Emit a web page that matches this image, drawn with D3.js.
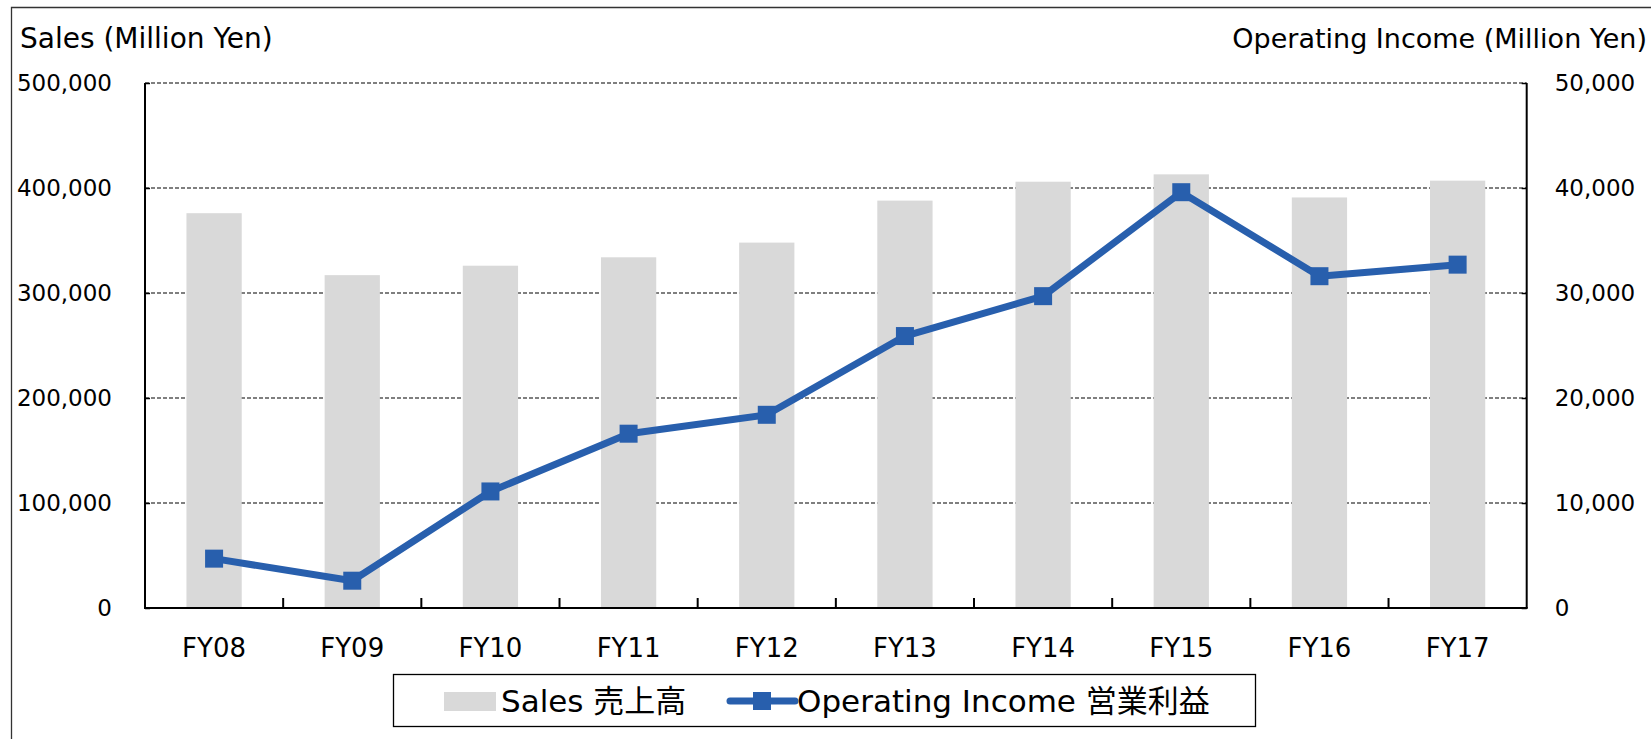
<!DOCTYPE html>
<html>
<head>
<meta charset="utf-8">
<script src="https://cdn.jsdelivr.net/npm/d3@7"></script>
<style>
  body { margin: 0; background: #fff; }
  svg text { font-family: "DejaVu Sans", "Noto Sans CJK JP", sans-serif; fill: #000; }
</style>
</head>
<body>
<svg id="chart" width="1651" height="739"></svg>
<script>
// values
var years      = ['FY08', 'FY09', 'FY10', 'FY11', 'FY12', 'FY13', 'FY14', 'FY15', 'FY16', 'FY17']
var sales      = [376000, 317000, 326000, 334000, 348000, 388000, 406000, 413000, 391000, 407000]
var opIncome   = [4700, 2600, 11100, 16600, 18400, 25900, 29700, 39600, 31600, 32700]
var salesTicks = [0, 100000, 200000, 300000, 400000, 500000]
var incTicks   = [0, 10000, 20000, 30000, 40000, 50000]

var barColor  = '#d9d9d9'
var lineColor = '#285fad'

var svg = d3.select('#chart')
var pLeft = 145, pRight = 1526.7, pTop = 83, pBottom = 608

var x = d3.scaleBand().domain(years).range([pLeft, pRight]).paddingInner(0.6).paddingOuter(0.3)
var xEdge = d3.scaleLinear().domain([0, years.length]).range([pLeft, pRight])
var ySales = d3.scaleLinear().domain([0, 500000]).range([pBottom, pTop])
var yInc = d3.scaleLinear().domain([0, 50000]).range([pBottom, pTop])

// outer frame (top + left visible)
svg.append('path')
  .attr('d', 'M11.5,760 L11.5,7.5 L1660,7.5')
  .attr('fill', 'none').attr('stroke', '#333').attr('stroke-width', 1.3)

// gridlines
svg.append('g').selectAll('line')
  .data(salesTicks.filter(d => d > 0))
  .enter().append('line')
  .attr('x1', pLeft).attr('x2', pRight)
  .attr('y1', d => ySales(d)).attr('y2', d => ySales(d))
  .attr('stroke', '#000').attr('stroke-width', 1.2)
  .attr('stroke-dasharray', '4,2')

// bars
svg.append('g').selectAll('rect')
  .data(years)
  .enter().append('rect')
  .attr('x', d => x(d))
  .attr('width', x.bandwidth())
  .attr('y', (d, i) => ySales(sales[i]))
  .attr('height', (d, i) => pBottom - ySales(sales[i]))
  .attr('fill', barColor)

// axes
var fmt = d3.format(',')
var axL = svg.append('g').attr('transform', `translate(${pLeft},0)`)
  .call(d3.axisLeft(ySales).tickValues(salesTicks).tickSize(-5).tickPadding(33).tickFormat(fmt))
var axR = svg.append('g').attr('transform', `translate(${pRight},0)`)
  .call(d3.axisRight(yInc).tickValues(incTicks).tickSize(-5).tickPadding(28).tickFormat(fmt))
;[axL, axR].forEach(a => {
  a.select('.domain').attr('stroke', '#000').attr('stroke-width', 2)
    .attr('d', `M0,${pTop}V${pBottom}`)
  a.selectAll('.tick line').attr('stroke', '#000').attr('stroke-width', 1.5)
  a.selectAll('text').style('font-size', '23px').attr('fill', '#000')
})

// bottom axis with category boundary ticks
svg.append('line')
  .attr('x1', pLeft - 1).attr('x2', pRight + 1)
  .attr('y1', pBottom).attr('y2', pBottom)
  .attr('stroke', '#000').attr('stroke-width', 2)
svg.append('g').selectAll('line')
  .data(d3.range(1, years.length))
  .enter().append('line')
  .attr('x1', d => xEdge(d)).attr('x2', d => xEdge(d))
  .attr('y1', pBottom).attr('y2', pBottom - 10)
  .attr('stroke', '#000').attr('stroke-width', 2)
svg.append('g').selectAll('text')
  .data(years)
  .enter().append('text')
  .attr('x', d => x(d) + x.bandwidth() / 2)
  .attr('y', 657)
  .attr('text-anchor', 'middle')
  .style('font-size', '26px')
  .text(d => d)

// axis titles
svg.append('text').attr('x', 20).attr('y', 48)
  .style('font-size', '28px').text('Sales (Million Yen)')
svg.append('text').attr('x', 1647).attr('y', 48).attr('text-anchor', 'end')
  .style('font-size', '27px').text('Operating Income (Million Yen)')

// operating income line
var cx = d => x(d) + x.bandwidth() / 2
var line = d3.line()
  .x((d, i) => cx(years[i]))
  .y(d => yInc(d))
svg.append('path')
  .datum(opIncome)
  .attr('d', line)
  .attr('fill', 'none').attr('stroke', lineColor).attr('stroke-width', 7)
  .attr('stroke-linejoin', 'round')
var ms = 18
svg.append('g').selectAll('rect')
  .data(opIncome)
  .enter().append('rect')
  .attr('x', (d, i) => cx(years[i]) - ms / 2)
  .attr('y', d => yInc(d) - ms / 2)
  .attr('width', ms).attr('height', ms)
  .attr('fill', lineColor)

// legend
var lg = svg.append('g')
lg.append('rect').attr('x', 393.5).attr('y', 674.5).attr('width', 862).attr('height', 52)
  .attr('fill', '#fff').attr('stroke', '#000').attr('stroke-width', 1.3)
lg.append('rect').attr('x', 444).attr('y', 692).attr('width', 52).attr('height', 19).attr('fill', barColor)
lg.append('text').attr('x', 501).attr('y', 712).style('font-size', '31px').text('Sales 売上高')
lg.append('line').attr('x1', 730).attr('x2', 795).attr('y1', 701).attr('y2', 701)
  .attr('stroke', lineColor).attr('stroke-width', 7).attr('stroke-linecap', 'round')
lg.append('rect').attr('x', 762 - ms / 2).attr('y', 701 - ms / 2).attr('width', ms).attr('height', ms)
  .attr('fill', lineColor)
lg.append('text').attr('x', 797).attr('y', 712).style('font-size', '31px').text('Operating Income 営業利益')
</script>
</body>
</html>
